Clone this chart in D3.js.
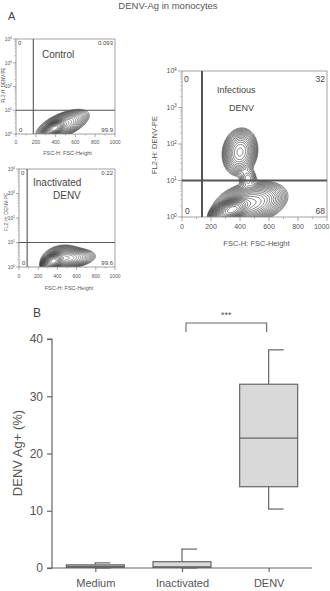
<!DOCTYPE html>
<html><head><meta charset="utf-8">
<script src="https://cdn.jsdelivr.net/npm/d3@7"></script>
<style>body{margin:0;background:#fff} svg{display:block} text{font-family:"Liberation Sans",Arial,sans-serif}</style>
</head><body><svg id="c" width="330" height="591"></svg>
<script>
// ---------- data ----------
const flowTitles = [["Control"], ["Inactivated", "DENV"], ["Infectious", "DENV"]];
const quadUL = ["0", "0", "0"];
const quadUR = ["0.093", "0.22", "32"];
const quadLL = ["0", "0", "0"];
const quadLR = ["99.9", "99.6", "68"];
const gateFSC = [175, 85, 138];
const gateFL2 = [10, 10, 10];
const fscTicks = [0, 200, 400, 600, 800, 1000];
const fl2Decades = [0, 1, 2, 3, 4];
// populations: [FSC centre, log10 FL2 centre, sd FSC, sd log, corr, height]
const controlPops = [[390, 0.24, 40, 0.12, 0.55, 4], [470, 0.38, 90, 0.22, 0.6, 0.3]];
const inactivatedPops = [[360, 0.24, 38, 0.12, 0.4, 4], [520, 0.36, 95, 0.14, 0.2, 0.22], [460, 0.4, 75, 0.18, 0.1, 0.15]];
const infectiousPops = [[400, 1.78, 43, 0.23, 0.1, 0.2], [455, 1.05, 26, 0.13, 0, 0.03], [345, 0.2, 45, 0.12, 0.5, 4], [470, 0.38, 85, 0.2, 0.3, 0.35]];
const boxCategories = ["Medium", "Inactivated", "DENV"];
const boxMin = [0, 0, 10.3];
const boxQ1 = [0.1, 0.1, 14.2];
const boxMedian = [0.3, 0.2, 22.7];
const boxQ3 = [0.55, 1.1, 32.1];
const boxMax = [0.9, 3.3, 38.1];
const boxTicks = [0, 10, 20, 30, 40];

// ---------- layout ----------
const svg = d3.select("#c");
const txt = "#444";
svg.append("text").attr("x", 168).attr("y", 8.5).attr("text-anchor", "middle").attr("font-size", 9.5).attr("fill", "#555").text("DENV-Ag in monocytes");
svg.append("text").attr("x", 8).attr("y", 20).attr("font-size", 11).attr("fill", txt).text("A");
svg.append("text").attr("x", 33).attr("y", 317).attr("font-size", 12).attr("fill", txt).text("B");

const panels = [
  {x0: 16, x1: 115, yT: 39, yB: 134, pops: controlPops, fs: 5, qfs: 6, tfs: 10, gw: 1.1, cw: 0.4,
   titlePos: [[42, 58]], ylab: [5, 85], ylfs: 4.5, xlabY: 155, tickY: 144, qTop: 45, qBot: 132},
  {x0: 19, x1: 115, yT: 169, yB: 267, pops: inactivatedPops, fs: 5, qfs: 6, tfs: 10, gw: 1.1, cw: 0.4,
   titlePos: [[33, 186], [53, 199]], ylab: [8, 212], ylfs: 5, xlabY: 290, tickY: 278, qTop: 175, qBot: 265},
  {x0: 182, x1: 327, yT: 71, yB: 217, pops: infectiousPops, fs: 7, qfs: 8.5, tfs: 9, gw: 2, cw: 0.5,
   titlePos: [[217, 93], [229, 111]], ylab: [157, 145], ylfs: 7.5, xlabY: 246, tickY: 229, qTop: 82, qBot: 214}
];
const levels = d3.range(-6, 21).map(k => Math.pow(0.75, k));

panels.forEach((p, i) => {
  const g = svg.append("g");
  const xs = d3.scaleLinear().domain([0, 1000]).range([p.x0, p.x1]);
  const ys = d3.scaleLog().domain([1, 1e4]).range([p.yB, p.yT]);
  const cid = "clip" + i;
  svg.append("clipPath").attr("id", cid).append("rect")
    .attr("x", p.x0).attr("y", p.yT).attr("width", p.x1 - p.x0).attr("height", p.yB - p.yT);
  const step = 0.5;
  const gx0 = p.x0 - 10, gy0 = p.yT;
  const nx = Math.ceil((p.x1 - p.x0 + 12) / step), ny = Math.ceil((p.yB - p.yT + 20) / step);
  const vals = new Float64Array(nx * ny);
  for (let j = 0; j < ny; j++) {
    const lg = Math.log10(ys.invert(gy0 + j * step));
    for (let k = 0; k < nx; k++) {
      const f = xs.invert(gx0 + k * step);
      let s = 0;
      p.pops.forEach(([mx, my, sx, sy, r, h]) => {
        const dx = (f - mx) / sx, dy = (lg - my) / sy;
        const q = (dx * dx - 2 * r * dx * dy + dy * dy) / (1 - r * r);
        s += h * Math.exp(-q / 2);
      });
      vals[j * nx + k] = s;
    }
  }
  const cons = d3.contours().size([nx, ny]).thresholds(levels)(vals);
  const path = d3.geoPath(d3.geoIdentity().scale(step).translate([gx0 - step / 2, gy0 - step / 2]));
  g.append("g").attr("clip-path", `url(#${cid})`).selectAll("path").data(cons).join("path")
    .attr("d", path).attr("fill", "none").attr("stroke", "#000").attr("stroke-width", p.cw);
  g.append("rect").attr("x", p.x0).attr("y", p.yT).attr("width", p.x1 - p.x0).attr("height", p.yB - p.yT)
    .attr("fill", "none").attr("stroke", "#8a8a8a").attr("stroke-width", 0.8);
  g.append("line").attr("x1", xs(gateFSC[i])).attr("x2", xs(gateFSC[i])).attr("y1", p.yT).attr("y2", p.yB)
    .attr("stroke", "#555").attr("stroke-width", p.gw);
  g.append("line").attr("x1", p.x0).attr("x2", p.x1).attr("y1", ys(gateFL2[i])).attr("y2", ys(gateFL2[i]))
    .attr("stroke", "#555").attr("stroke-width", p.gw);
  const tl = p.fs * 0.6;
  fscTicks.forEach(t => {
    g.append("line").attr("x1", xs(t)).attr("x2", xs(t)).attr("y1", p.yB).attr("y2", p.yB + tl).attr("stroke", "#777").attr("stroke-width", 0.6);
    const tx = g.append("text").attr("x", xs(t)).attr("y", p.tickY).attr("text-anchor", "middle").attr("font-size", p.fs).attr("fill", "#555").text(t);
    if (xs(t) + p.fs * 1.2 > 329) tx.attr("x", 329.5).attr("text-anchor", "end");
  });
  d3.range(100, 1000, 200).forEach(t => {
    g.append("line").attr("x1", xs(t)).attr("x2", xs(t)).attr("y1", p.yB).attr("y2", p.yB + tl * 0.5).attr("stroke", "#777").attr("stroke-width", 0.5);
  });
  fl2Decades.forEach(d => {
    const y = ys(Math.pow(10, d));
    g.append("line").attr("x1", p.x0 - tl).attr("x2", p.x0).attr("y1", y).attr("y2", y).attr("stroke", "#777").attr("stroke-width", 0.6);
    g.append("text").attr("x", p.x0 - tl - 1 - p.fs * 0.35).attr("y", y + p.fs * 0.35).attr("text-anchor", "end").attr("font-size", p.fs).attr("fill", "#555").text("10");
    g.append("text").attr("x", p.x0 - tl - 1).attr("y", y - p.fs * 0.05).attr("text-anchor", "end").attr("font-size", p.fs * 0.7).attr("fill", "#555").text(d);
    if (d < 4) d3.range(2, 10).forEach(m => {
      const yy = ys(m * Math.pow(10, d));
      g.append("line").attr("x1", p.x0 - tl * 0.5).attr("x2", p.x0).attr("y1", yy).attr("y2", yy).attr("stroke", "#888").attr("stroke-width", 0.4);
    });
  });
  flowTitles[i].forEach((s, k) => {
    g.append("text").attr("x", p.titlePos[k][0]).attr("y", p.titlePos[k][1]).attr("font-size", p.tfs).attr("fill", txt).text(s);
  });
  g.append("text").attr("x", p.x0 + 2).attr("y", p.qTop).attr("font-size", p.qfs).attr("fill", txt).text(quadUL[i]);
  g.append("text").attr("x", p.x1 - 2).attr("y", p.qTop).attr("text-anchor", "end").attr("font-size", p.qfs).attr("fill", txt).text(quadUR[i]);
  g.append("text").attr("x", p.x0 + 3).attr("y", p.qBot).attr("font-size", p.qfs).attr("fill", txt).text(quadLL[i]);
  g.append("text").attr("x", p.x1 - 2).attr("y", p.qBot).attr("text-anchor", "end").attr("font-size", p.qfs).attr("fill", txt).text(quadLR[i]);
  g.append("text").attr("transform", `translate(${p.ylab[0]},${p.ylab[1]}) rotate(-90)`).attr("text-anchor", "middle")
    .attr("font-size", p.ylfs).attr("fill", "#555").text("FL2-H: DENV-PE");
  g.append("text").attr("x", (p.x0 + p.x1) / 2 + 2).attr("y", p.xlabY).attr("text-anchor", "middle")
    .attr("font-size", p.fs + 0.5).attr("fill", "#555").text("FSC-H: FSC-Height");
});

// ---------- box plot ----------
const bx = d3.scalePoint().domain(boxCategories).range([52, 312]).padding(0.5);
const by = d3.scaleLinear().domain([0, 40]).range([568, 339]);
const bg = svg.append("g");
const ax = bg.append("g").attr("transform", "translate(52,0)").call(d3.axisLeft(by).tickValues(boxTicks).tickSize(5).tickPadding(4));
ax.select(".domain").attr("stroke", "#666").attr("stroke-width", 1.2).attr("d", `M-5,${by(40)}H0V${by(0)}H-5`);
ax.selectAll(".tick line").attr("stroke", "#666").attr("stroke-width", 1.2);
ax.selectAll(".tick text").attr("font-size", 12).attr("fill", "#555").attr("font-family", "Liberation Sans, Arial, sans-serif");
const axb = bg.append("g").attr("transform", "translate(0,568)").call(d3.axisBottom(bx).tickSize(4).tickPadding(7));
axb.select(".domain").attr("stroke", "#666").attr("stroke-width", 1.2).attr("d", "M52,0H312");
axb.selectAll(".tick line").attr("stroke", "#666").attr("stroke-width", 1.2);
axb.selectAll(".tick text").attr("font-size", 11).attr("fill", "#555").attr("font-family", "Liberation Sans, Arial, sans-serif");
bg.append("text").attr("transform", "translate(22,453) rotate(-90)").attr("text-anchor", "middle")
  .attr("font-size", 13).attr("fill", "#555").text("DENV Ag+ (%)");

const bw = 58, cap = 15;
boxCategories.forEach((c, i) => {
  const cx = bx(c);
  const s = "#666";
  bg.append("line").attr("x1", cx).attr("x2", cx).attr("y1", by(boxMax[i])).attr("y2", by(boxQ3[i])).attr("stroke", s).attr("stroke-width", 1.2);
  bg.append("line").attr("x1", cx).attr("x2", cx).attr("y1", by(boxQ1[i])).attr("y2", by(boxMin[i])).attr("stroke", s).attr("stroke-width", 1.2);
  bg.append("line").attr("x1", cx - 0.6).attr("x2", cx + cap).attr("y1", by(boxMax[i])).attr("y2", by(boxMax[i])).attr("stroke", s).attr("stroke-width", 1.2);
  bg.append("line").attr("x1", cx - 0.6).attr("x2", cx + cap).attr("y1", by(boxMin[i])).attr("y2", by(boxMin[i])).attr("stroke", s).attr("stroke-width", 1.2);
  bg.append("rect").attr("x", cx - bw / 2).attr("y", by(boxQ3[i])).attr("width", bw).attr("height", by(boxQ1[i]) - by(boxQ3[i]))
    .attr("fill", "#d9d9d9").attr("stroke", s).attr("stroke-width", 1.2);
  bg.append("line").attr("x1", cx - bw / 2).attr("x2", cx + bw / 2).attr("y1", by(boxMedian[i])).attr("y2", by(boxMedian[i])).attr("stroke", s).attr("stroke-width", 1.2);
});
const bl = bx("Inactivated") + 4, br = bx("DENV") - 2;
bg.append("path").attr("d", `M${bl},332V323H${br}V332`).attr("fill", "none").attr("stroke", "#666").attr("stroke-width", 1.1);
bg.append("text").attr("x", (bl + br) / 2).attr("y", 318).attr("text-anchor", "middle").attr("font-size", 9).attr("fill", "#555").text("***");
</script></body></html>
